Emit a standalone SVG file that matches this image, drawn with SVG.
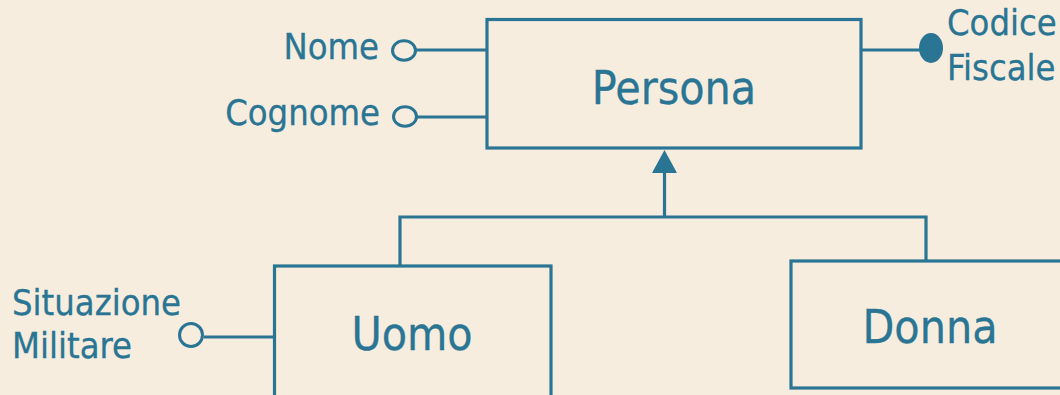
<svg xmlns="http://www.w3.org/2000/svg" width="1060" height="395" viewBox="0 0 1060 395">
<style>
.bg{fill:#f6eddf}
.box{fill:none;stroke:#2a7594;stroke-width:3.2}
.ln{fill:none;stroke:#2a7594;stroke-width:3.2}
.att{fill:#f6eddf;stroke:#2a7594;stroke-width:3}
.key{fill:#2a7594;stroke:none}
.t{font-family:"DejaVu Sans Condensed","DejaVu Sans",sans-serif;font-stretch:condensed;fill:#2a7594;stroke:#2a7594;stroke-width:0.3}
.big{font-size:46px}
.sm{font-size:36px}
</style>
<rect class="bg" x="0" y="0" width="1060" height="395"/>
<g id="connectors">
<line class="ln" x1="416" y1="50" x2="487" y2="50"/>
<line class="ln" x1="417" y1="117" x2="487" y2="117"/>
<line class="ln" x1="861" y1="50" x2="925" y2="50"/>
<line class="ln" x1="204" y1="337" x2="274" y2="337"/>
<polyline class="ln" points="400,266 400,217 926,217 926,261"/>
<line class="ln" x1="664.5" y1="217" x2="664.5" y2="170"/>
<polygon class="key" points="664.5,150 652,173 677,173"/>
</g>
<g id="persona">
<rect class="box" x="487" y="19.5" width="374" height="128.5"/>
<text class="t big" x="674" y="104" text-anchor="middle">Persona</text>
</g>
<g id="uomo">
<rect class="box" x="274.5" y="266" width="276.5" height="140"/>
<text class="t big" x="412" y="350" text-anchor="middle">Uomo</text>
</g>
<g id="donna">
<rect class="box" x="791" y="261" width="290" height="127"/>
<text class="t big" x="930" y="343" text-anchor="middle">Donna</text>
</g>
<g id="attr-nome">
<ellipse class="att" cx="404" cy="50.5" rx="11.5" ry="9.7"/>
<text class="t sm" x="379" y="59" text-anchor="end">Nome</text>
</g>
<g id="attr-cognome">
<ellipse class="att" cx="405" cy="116.5" rx="11.5" ry="9.7"/>
<text class="t sm" x="380" y="125" text-anchor="end">Cognome</text>
</g>
<g id="attr-codicefiscale">
<ellipse class="key" cx="931" cy="48" rx="12" ry="15"/>
<text class="t sm" x="947" y="35">Codice</text>
<text class="t sm" x="947" y="80">Fiscale</text>
</g>
<g id="attr-situazionemilitare">
<circle class="att" cx="191" cy="335" r="11.5"/>
<text class="t sm" x="12" y="315">Situazione</text>
<text class="t sm" x="12" y="358">Militare</text>
</g>
</svg>
